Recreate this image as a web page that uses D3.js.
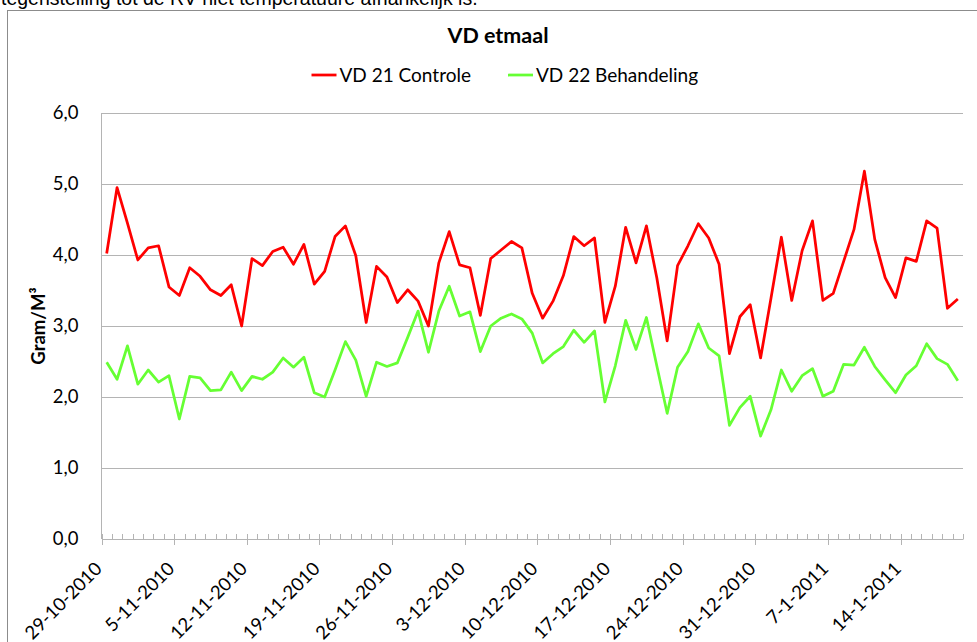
<!DOCTYPE html>
<html><head><meta charset="utf-8">
<script src="https://cdn.jsdelivr.net/npm/d3@7"></script>
<style>
html,body{margin:0;padding:0;background:#fff;overflow:hidden}
svg{display:block}
</style></head>
<body>
<script>
const title = "VD etmaal";
const headText = "tegenstelling tot de RV niet temperatuure afhankelijk is.";
const yTitle = "Gram/M³";
const seriesNames = ["VD 21 Controle", "VD 22 Behandeling"];
const seriesColors = ["#ff0000", "#66ff33"];
const startDate = new Date(2010, 9, 29);
const endDate = new Date(2011, 0, 20);
const categories = d3.timeDay.range(startDate, endDate);
const tickLabels = ["29-10-2010","5-11-2010","12-11-2010","19-11-2010","26-11-2010","3-12-2010","10-12-2010","17-12-2010","24-12-2010","31-12-2010","7-1-2011","14-1-2011"];
const yTicks = [0,1,2,3,4,5,6];
const vd21 = [4.02,4.95,4.45,3.93,4.10,4.13,3.55,3.43,3.82,3.70,3.51,3.43,3.58,3.00,3.95,3.85,4.05,4.11,3.87,4.15,
  3.59,3.77,4.26,4.41,3.99,3.05,3.84,3.69,3.33,3.51,3.35,3.00,3.89,4.33,3.86,3.82,3.15,3.95,4.07,4.19,
  4.10,3.46,3.11,3.35,3.71,4.26,4.13,4.24,3.05,3.56,4.39,3.89,4.41,3.68,2.79,3.85,4.13,4.44,4.24,3.87,
  2.61,3.13,3.30,2.55,3.39,4.25,3.36,4.06,4.48,3.36,3.46,3.91,4.36,5.18,4.22,3.68,3.40,3.96,3.91,4.48,
  4.38,3.25,3.38];
const vd22 = [2.49,2.25,2.72,2.18,2.38,2.21,2.30,1.69,2.29,2.27,2.09,2.10,2.35,2.09,2.29,2.25,2.35,2.55,2.42,2.56,
  2.06,2.00,2.38,2.78,2.52,2.01,2.49,2.43,2.48,2.84,3.21,2.63,3.21,3.56,3.14,3.20,2.64,3.00,3.11,3.17,
  3.10,2.90,2.48,2.61,2.71,2.94,2.77,2.93,1.93,2.44,3.08,2.67,3.12,2.44,1.77,2.42,2.64,3.03,2.69,2.58,
  1.60,1.85,2.01,1.45,1.82,2.38,2.08,2.30,2.40,2.01,2.08,2.46,2.45,2.70,2.43,2.24,2.06,2.31,2.44,2.75,
  2.54,2.46,2.23];

const W = 977, H = 642;
const m = {left: 101.5, right: 963, top: 113, bottom: 539};
const font = "Lato, 'Open Sans', sans-serif";

const svg = d3.select("body").append("svg").attr("width", W).attr("height", H);

// heading text cut off at top (as in the source page)
svg.append("text").attr("x", 1).attr("y", 5).attr("font-family", "'Liberation Sans', Arial, sans-serif")
  .attr("font-size", 19.5).attr("fill", "#000").text(headText);

// chart frame
svg.append("rect").attr("x", 7.5).attr("y", 10.5).attr("width", 980).attr("height", 650)
  .attr("fill", "#fff").attr("stroke", "#8c8c8c").attr("stroke-width", 1);

const x = d3.scaleBand().domain(d3.range(categories.length)).range([m.left, m.right]).padding(0);
const xEdge = d3.scaleLinear().domain([0, categories.length]).range([m.left, m.right]);
const y = d3.scaleLinear().domain([0, 6]).range([m.bottom, m.top]);

// gridlines
svg.append("g").attr("transform", `translate(${m.left},0)`)
  .call(d3.axisLeft(y).tickValues(yTicks).tickSize(-(m.right - m.left)).tickFormat(""))
  .call(g => g.select(".domain").remove())
  .call(g => g.selectAll("line").attr("stroke", "#b4b4b4").attr("stroke-width", 1).attr("shape-rendering", "crispEdges"));

// y axis line
svg.append("line").attr("x1", m.left).attr("x2", m.left).attr("y1", m.top).attr("y2", m.bottom)
  .attr("stroke", "#b4b4b4").attr("shape-rendering", "crispEdges");

// y labels
svg.append("g").attr("transform", `translate(${m.left - 20},0)`)
  .call(d3.axisLeft(y).tickValues(yTicks).tickSize(0).tickFormat(d => d3.format(".1f")(d).replace(".", ",")))
  .call(g => g.select(".domain").remove())
  .call(g => g.selectAll("text").attr("font-family", font).attr("font-size", 18.5).attr("fill", "#000").attr("dx", 0));

// x axis minor ticks (upward)
svg.append("g").attr("transform", `translate(0,${m.bottom})`)
  .call(d3.axisBottom(xEdge).tickValues(d3.range(0, categories.length + 1)).tickSize(-5).tickSizeOuter(0).tickFormat(""))
  .call(g => g.select(".domain").attr("stroke", "#b4b4b4"))
  .call(g => g.selectAll("line").attr("stroke", "#b4b4b4").attr("shape-rendering", "crispEdges"));

// x axis major ticks with labels
const majorIdx = tickLabels.map((_, i) => i * 7);
const gx = svg.append("g").attr("transform", `translate(0,${m.bottom})`)
  .call(d3.axisBottom(xEdge).tickValues(majorIdx).tickSize(6).tickSizeOuter(0).tickFormat((d, i) => tickLabels[i]));
gx.select(".domain").remove();
gx.selectAll("line").attr("y1", -5).attr("stroke", "#b4b4b4").attr("shape-rendering", "crispEdges");
gx.selectAll("text").attr("font-family", font).attr("font-size", 18.5).attr("fill", "#000")
  .attr("text-anchor", "end").attr("dy", 0).attr("y", 0)
  .attr("transform", "translate(1,31) rotate(-45)");

// lines
const line = d3.line().x((d, i) => x(i) + x.bandwidth() / 2).y(d => y(d));
[vd21, vd22].forEach((s, k) => {
  svg.append("path").datum(s).attr("d", line).attr("fill", "none")
    .attr("stroke", seriesColors[k]).attr("stroke-width", 2.75).attr("stroke-linejoin", "round");
});

// title
svg.append("text").attr("x", 498).attr("y", 43).attr("text-anchor", "middle")
  .attr("font-family", font).attr("font-weight", "bold").attr("font-size", 21.5).attr("fill", "#000").text(title);

// legend
const legX = [311.5, 508];
seriesNames.forEach((n, k) => {
  svg.append("line").attr("x1", legX[k]).attr("x2", legX[k] + 25).attr("y1", 75).attr("y2", 75)
    .attr("stroke", seriesColors[k]).attr("stroke-width", 2.75);
  svg.append("text").attr("x", legX[k] + 28).attr("y", 82).attr("font-family", font)
    .attr("font-size", 19).attr("fill", "#000").text(n);
});

// y title
svg.append("text").attr("transform", `translate(45,${(m.top + m.bottom) / 2}) rotate(-90)`)
  .attr("text-anchor", "middle").attr("font-family", font).attr("font-weight", "bold")
  .attr("font-size", 18.5).attr("fill", "#000").text(yTitle);
</script>
</body></html>
